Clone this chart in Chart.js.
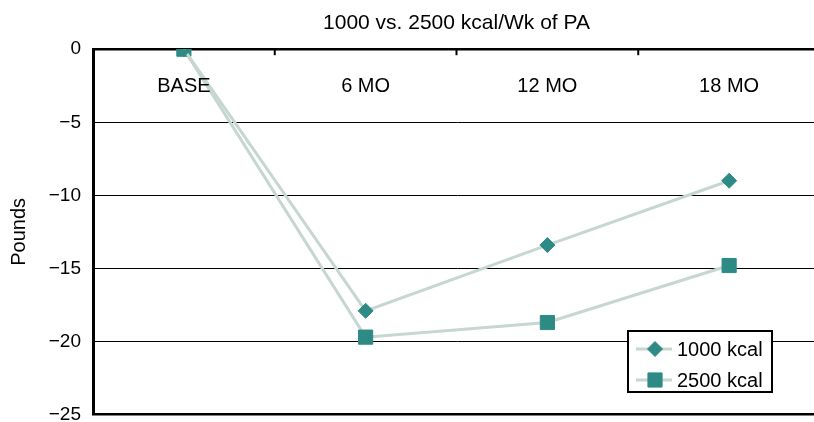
<!DOCTYPE html>
<html>
<head>
<meta charset="utf-8">
<script src="https://cdn.jsdelivr.net/npm/chart.js@4.4.1/dist/chart.umd.min.js"></script>
<style>
  html, body { margin: 0; padding: 0; background: #fff; overflow: hidden; }
  #wrap { width: 831px; height: 438px; }
</style>
</head>
<body>
<div id="wrap"><canvas id="c" width="831" height="438"></canvas></div>
<script>
const categories = ['BASE', '6 MO', '12 MO', '18 MO'];
const series1000 = [0, -17.9, -13.4, -9.0];
const series2500 = [0, -19.7, -18.7, -14.8];
const seriesNames = ['1000 kcal', '2500 kcal'];
const yTicks = [0, -5, -10, -15, -20, -25];
const chartTitle = '1000 vs. 2500 kcal/Wk of PA';
const yTitle = 'Pounds';

const LINE = '#c6d6d0';
const MARK = '#2e8a84';
const FONT = '"Liberation Sans", Arial, sans-serif';

const overlay = {
  id: 'overlay',
  afterDraw(chart) {
    const ctx = chart.ctx;
    const xs = chart.scales.x, ys = chart.scales.y;
    const y0 = ys.getPixelForValue(0);
    ctx.save();
    // category labels below zero line
    ctx.fillStyle = '#000';
    ctx.font = '20px ' + FONT;
    ctx.textAlign = 'center';
    ctx.textBaseline = 'middle';
    categories.forEach((c, i) => {
      ctx.fillText(c, xs.getPixelForValue(i), y0 + 37);
    });
    // tick marks at category boundaries
    ctx.strokeStyle = '#000';
    ctx.lineWidth = 2;
    for (let i = 0; i < categories.length - 1; i++) {
      const xb = (xs.getPixelForValue(i) + xs.getPixelForValue(i + 1)) / 2;
      ctx.beginPath();
      ctx.moveTo(xb, y0);
      ctx.lineTo(xb, y0 + 6);
      ctx.stroke();
    }
    // legend
    const bx = 628, by = 331, bw = 144, bh = 61;
    ctx.fillStyle = '#fff';
    ctx.fillRect(bx, by, bw, bh);
    ctx.lineWidth = 2;
    ctx.strokeStyle = '#000';
    ctx.strokeRect(bx, by, bw, bh);
    const ds = chart.data.datasets;
    const rows = [349, 380];
    ds.forEach((d, i) => {
      const ry = rows[i];
      ctx.strokeStyle = d.borderColor;
      ctx.lineWidth = 3;
      ctx.beginPath();
      ctx.moveTo(636, ry);
      ctx.lineTo(672, ry);
      ctx.stroke();
      ctx.fillStyle = d.pointBackgroundColor;
      ctx.strokeStyle = d.pointBorderColor;
      ctx.lineWidth = 1;
      Chart.helpers.drawPoint(ctx, { pointStyle: d.pointStyle, radius: d.pointRadius, rotation: 0, borderWidth: 1 }, 655, ry);
      ctx.fillStyle = '#000';
      ctx.font = '20px ' + FONT;
      ctx.textAlign = 'left';
      ctx.textBaseline = 'middle';
      ctx.fillText(d.label, 677, ry + 1);
    });
    ctx.restore();
  }
};

new Chart(document.getElementById('c'), {
  type: 'line',
  data: {
    labels: categories,
    datasets: [
      {
        label: seriesNames[0],
        data: series1000,
        borderColor: LINE,
        borderWidth: 3,
        pointStyle: 'rectRot',
        pointRadius: 7.5,
        pointBackgroundColor: MARK,
        pointBorderColor: MARK,
        pointBorderWidth: 1,
        tension: 0
      },
      {
        label: seriesNames[1],
        data: series2500,
        borderColor: LINE,
        borderWidth: 3,
        pointStyle: 'rect',
        pointRadius: 10,
        pointBackgroundColor: MARK,
        pointBorderColor: MARK,
        pointBorderWidth: 1,
        tension: 0
      }
    ]
  },
  options: {
    responsive: false,
    animation: false,
    layout: { padding: { left: 0, right: 2, top: 0, bottom: 8 } },
    plugins: {
      legend: { display: false },
      tooltip: { enabled: false },
      title: { display: false }
    },
    scales: {
      x: {
        type: 'category',
        position: 'top',
        offset: true,
        grid: { display: false, drawTicks: false },
        border: { display: false },
        ticks: { display: false },
        title: {
          display: true,
          text: chartTitle,
          color: '#000',
          font: { family: FONT, size: 21 },
          padding: { top: 11, bottom: 13 }
        }
      },
      y: {
        min: -25,
        max: 0,
        afterFit(scale) { scale.width = 93; },
        afterBuildTicks(scale) { scale.ticks = yTicks.map(v => ({ value: v })); },
        ticks: {
          color: '#000',
          padding: 12,
          font: { family: FONT, size: 19 },
          callback: v => String(v).replace('-', '\u2212')
        },
        grid: {
          color: '#000',
          lineWidth: ctx => (ctx.tick && (ctx.tick.value === 0 || ctx.tick.value === -25)) ? 2.5 : 1,
          drawTicks: false
        },
        border: { display: true, color: '#000', width: 3 },
        title: {
          display: true,
          text: yTitle,
          color: '#000',
          font: { family: FONT, size: 20 },
          padding: { top: 7, bottom: 0 }
        }
      }
    }
  },
  plugins: [overlay]
});
</script>
</body>
</html>
